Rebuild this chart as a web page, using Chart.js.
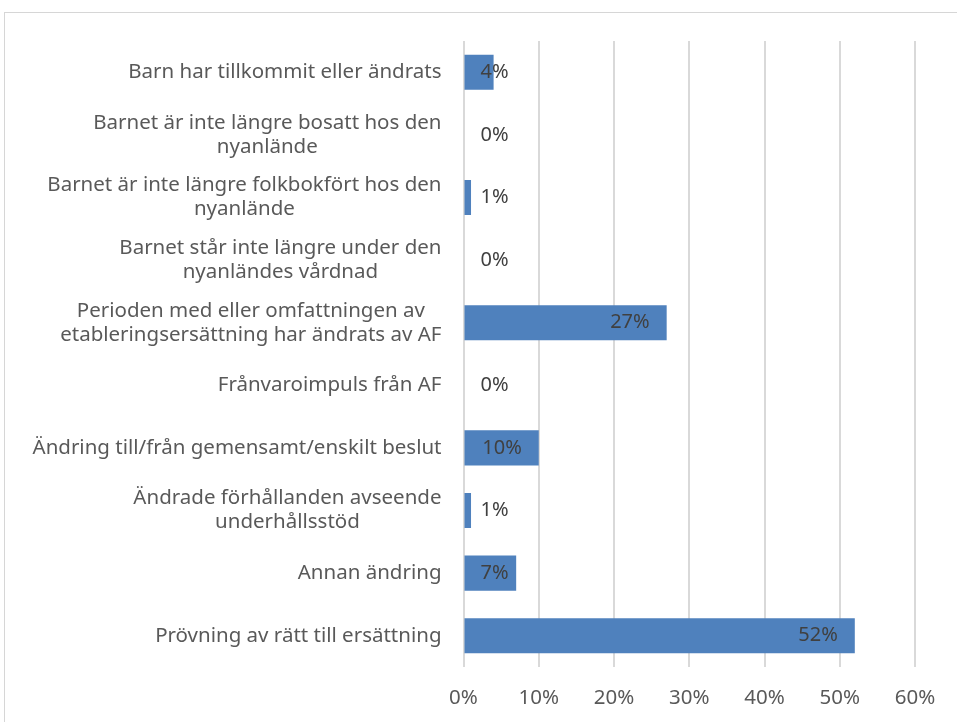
<!DOCTYPE html>
<html>
<head>
<meta charset="utf-8">
<script src="https://cdn.jsdelivr.net/npm/chart.js@4/dist/chart.umd.min.js"></script>
<style>
  html, body { margin: 0; padding: 0; background: #fff; overflow: hidden; }
  #frame { position: absolute; left: 4px; top: 12px; width: 1100px; height: 900px; border: 1px solid #d6d6d6; }
  #wrap { position: absolute; left: 0; top: 0; width: 957px; height: 722px; }
</style>
</head>
<body>
<div id="frame"></div>
<div id="wrap"><canvas id="chart"></canvas></div>
<script>
// Kategorier (radbrytningar som i originalet)
const categories = [
  ['Barn har tillkommit eller ändrats'],
  ['Barnet är inte längre bosatt hos den', 'nyanlände'],
  ['Barnet är inte längre folkbokfört hos den', 'nyanlände'],
  ['Barnet står inte längre under den', 'nyanländes vårdnad'],
  ['Perioden med eller omfattningen av', 'etableringsersättning har ändrats av AF'],
  ['Frånvaroimpuls från AF'],
  ['Ändring till/från gemensamt/enskilt beslut'],
  ['Ändrade förhållanden avseende', 'underhållsstöd'],
  ['Annan ändring'],
  ['Prövning av rätt till ersättning']
];
const values = [4, 0, 1, 0, 27, 0, 10, 1, 7, 52];
const axisMin = 0;
const axisMax = 60;
const axisStep = 10;

const fontFamily = '"Noto Sans", "Open Sans", sans-serif';
const labelFont = '20.5px ' + fontFamily;

// Kategorietiketter: högerställt block, raderna centrerade mot varandra
const categoryLabels = {
  id: 'categoryLabels',
  afterDraw(chart) {
    const ctx = chart.ctx;
    const yScale = chart.scales.y;
    const right = chart.chartArea.left - 22;
    const lineH = 24;
    ctx.save();
    ctx.font = labelFont;
    ctx.fillStyle = '#595959';
    ctx.textAlign = 'center';
    ctx.textBaseline = 'middle';
    categories.forEach((lines, i) => {
      const yc = yScale.getPixelForValue(i);
      const w = Math.max(...lines.map(l => ctx.measureText(l).width));
      const xc = right - w / 2;
      const y0 = yc - (lines.length - 1) * lineH / 2;
      lines.forEach((l, j) => ctx.fillText(l, xc, y0 + j * lineH));
    });
    ctx.restore();
  }
};

// Värdeetiketter vid stapelns slut (innanför, eller utanför om stapeln är kort)
const valueLabels = {
  id: 'valueLabels',
  afterDatasetsDraw(chart) {
    const ctx = chart.ctx;
    const zero = chart.scales.x.getPixelForValue(0);
    const meta = chart.getDatasetMeta(0);
    ctx.save();
    ctx.font = '20px ' + fontFamily;
    ctx.fillStyle = '#404040';
    ctx.textAlign = 'right';
    ctx.textBaseline = 'middle';
    meta.data.forEach((bar, i) => {
      const x = Math.max(bar.x - 17, zero + 45);
      ctx.fillText(values[i] + '%', x, bar.y);
    });
    ctx.restore();
  }
};

new Chart(document.getElementById('chart'), {
  type: 'bar',
  data: {
    labels: categories,
    datasets: [{
      data: values,
      backgroundColor: '#4f81bd',
      borderWidth: 0,
      barPercentage: 0.56,
      categoryPercentage: 1
    }]
  },
  options: {
    indexAxis: 'y',
    responsive: true,
    maintainAspectRatio: false,
    animation: false,
    layout: { padding: { left: 0, top: 41, right: 42, bottom: 0 } },
    plugins: {
      legend: { display: false },
      tooltip: { enabled: false }
    },
    scales: {
      x: {
        min: axisMin,
        max: axisMax,
        ticks: {
          stepSize: axisStep,
          padding: 19,
          color: '#595959',
          font: { family: fontFamily, size: 20.5 },
          callback: v => v + '%'
        },
        grid: { color: '#d9d9d9', lineWidth: 2, drawTicks: false },
        border: { display: false },
        afterFit: s => { s.height = 55; }
      },
      y: {
        ticks: { display: false },
        grid: { display: false },
        border: { display: false },
        afterFit: s => { s.width = 463.5; }
      }
    }
  },
  plugins: [categoryLabels, valueLabels]
});
</script>
</body>
</html>
